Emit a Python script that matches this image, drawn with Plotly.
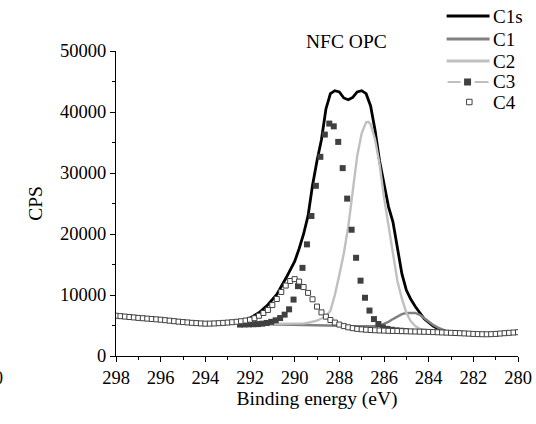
import plotly.graph_objects as go

# ---------------- data ----------------
# C4 (open squares) on a 0.2 eV grid from 298.0 to 280.0
c4_x = [round(298.0 - 0.2 * i, 1) for i in range(91)]
c4_y = [6600, 6530, 6460, 6390, 6320, 6250, 6190, 6130, 6070, 6010,
        5950, 5870, 5790, 5710, 5630, 5560, 5500, 5440, 5390, 5340,
        5300, 5310, 5340, 5380, 5430, 5480, 5540, 5610, 5700, 5810,
        5950, 6200, 6600, 7050, 7550, 8350, 9350, 10500, 11550, 12300,
        12600, 12200, 11300, 10350, 9300, 8100, 7150, 6450, 5900, 5480,
        5150, 4900, 4700, 4560, 4450, 4370, 4310, 4260, 4220, 4190,
        4160, 4130, 4110, 4090, 4070, 4050, 4030, 4010, 3990, 3970,
        3950, 3920, 3890, 3860, 3830, 3800, 3770, 3740, 3700, 3660,
        3620, 3590, 3570, 3560, 3580, 3620, 3680, 3740, 3800, 3850,
        3900]

# C3 (filled squares)
c3_x = [292.45, 292.25, 292.05, 291.85, 291.65, 291.45, 291.25, 291.05,
        290.85, 290.65, 290.45, 290.25, 290.05, 289.85, 289.65, 289.45,
        289.25, 289.05, 288.85, 288.65, 288.45, 288.25, 288.05, 287.85,
        287.65, 287.45, 287.25, 287.05, 286.85, 286.65, 286.45, 286.25,
        286.05, 285.85, 285.65, 285.45, 285.25, 285.05]
c3_y = [5150, 5170, 5190, 5210, 5230, 5300, 5420, 5600,
        5850, 6220, 6780, 7650, 9250, 11450, 14450, 18300,
        22950, 27900, 32650, 36300, 38100, 37650, 35100, 30800,
        25800, 20700, 16100, 12350, 9550, 7450, 6050, 5250,
        4700, 4450, 4300, 4200, 4150, 4100]

# C1s envelope (black line)
c1s_x = [292.6, 292.4, 292.0, 291.6, 291.2, 290.8, 290.4, 290.0, 289.8, 289.6,
         289.4, 289.2, 289.0, 288.8, 288.6, 288.4, 288.2, 288.0, 287.8, 287.6,
         287.4, 287.2, 287.0, 286.8, 286.6, 286.4, 286.2, 286.0, 285.8, 285.6,
         285.4, 285.2, 285.0, 284.8, 284.6, 284.4, 284.2, 284.0, 283.8, 283.6,
         283.4, 283.2, 283.0]
c1s_y = [5500, 5650, 6200, 7100, 8400, 10100, 12700, 15500, 17600, 20000,
         23000, 28000, 32000, 35500, 40500, 43000, 43500, 43300, 42300, 42000,
         42400, 43300, 43500, 43000, 41000, 37000, 32000, 28500, 24500, 22000,
         17800, 13500, 10800, 9300, 8100, 7000, 6100, 5500, 4900, 4500,
         4200, 4000, 3900]

# C1 component (mid grey)
c1_x = [292.0, 291.0, 290.0, 289.0, 288.0, 287.5, 287.0, 286.5, 286.2, 286.0,
        285.8, 285.6, 285.4, 285.2, 285.0, 284.8, 284.6, 284.4, 284.2, 284.0,
        283.8, 283.6, 283.4, 283.2, 283.0]
c1_y = [5250, 5200, 5150, 5050, 4950, 4900, 4850, 4900, 5000, 5250,
        5600, 6050, 6500, 6850, 7050, 7100, 7050, 6750, 6200, 5600,
        5100, 4700, 4350, 4050, 3950]

# C2 component (light grey)
c2_x = [292.0, 291.0, 290.0, 289.8, 289.6, 289.4, 289.2, 289.0, 288.8, 288.6,
        288.4, 288.2, 288.0, 287.8, 287.6, 287.4, 287.2, 287.0, 286.8, 286.7,
        286.6, 286.4, 286.2, 286.0, 285.8, 285.6, 285.4, 285.2, 285.0, 284.8,
        284.6, 284.4, 284.2, 284.0, 283.5, 283.0]
c2_y = [5200, 5250, 5250, 5280, 5350, 5450, 5600, 5800, 6150, 6600,
        7400, 10000, 13300, 16800, 21200, 27000, 32800, 36500, 38300, 38400,
        38000, 35500, 31500, 26000, 21500, 17400, 12300, 9400, 7100, 5700,
        4900, 4450, 4300, 4200, 4100, 4000]

x_ticks = [298, 296, 294, 292, 290, 288, 286, 284, 282, 280]
y_ticks = [0, 10000, 20000, 30000, 40000, 50000]
legend_names = ["C1s", "C1", "C2", "C3", "C4"]

FONT = "Liberation Serif"
W, H = 536, 424
ML, MR, MT, MB = 116, 17.5, 51, 68
PW, PH = W - ML - MR, H - MT - MB


def px(xp):
    return (xp - ML) / PW


def py(yp):
    return (H - MB - yp) / PH


fig = go.Figure()

fig.add_trace(go.Scatter(x=c1s_x, y=c1s_y, mode="lines", name="C1s",
                         line=dict(color="#000000", width=2.8)))
fig.add_trace(go.Scatter(x=c1_x, y=c1_y, mode="lines", name="C1",
                         line=dict(color="#808080", width=2.4)))
fig.add_trace(go.Scatter(x=c2_x, y=c2_y, mode="lines", name="C2",
                         line=dict(color="#c0c0c0", width=2.4)))
fig.add_trace(go.Scatter(x=c3_x, y=c3_y, mode="markers", name="C3",
                         marker=dict(symbol="square", size=6, color="#404040",
                                     line=dict(width=0))))
fig.add_trace(go.Scatter(x=c4_x, y=c4_y, mode="markers", name="C4",
                         marker=dict(symbol="square", size=5, color="white",
                                     line=dict(color="#404040", width=1))))

axis_common = dict(
    showline=True, linecolor="black", linewidth=1.3,
    ticks="outside", ticklen=5, tickwidth=1.3, tickcolor="black",
    showgrid=False, zeroline=False, mirror=False, automargin=False,
    tickfont=dict(family=FONT, size=18.5, color="black"),
)

fig.update_xaxes(range=[298, 280], tickvals=x_ticks,
                 ticktext=[str(v) for v in x_ticks],
                 minor=dict(dtick=1, ticklen=3, tickwidth=1.3,
                            tickcolor="black", ticks="outside"),
                 title=dict(text="Binding energy (eV)",
                            font=dict(family=FONT, size=19.5, color="black"),
                            standoff=4),
                 **axis_common)
fig.update_yaxes(range=[0, 50000], tickvals=y_ticks,
                 ticktext=[str(v) for v in y_ticks],
                 minor=dict(dtick=5000, ticklen=3, tickwidth=1.3,
                            tickcolor="black", ticks="outside"),
                 title=dict(text="CPS",
                            font=dict(family=FONT, size=19.5, color="black"),
                            standoff=12),
                 **axis_common)

# ---- manual legend (Origin style) ----
leg_y = [16, 39, 61, 82, 102]
shapes = []
annotations = []
line_styles = [("#000000", 3), ("#808080", 3), ("#c0c0c0", 3)]
for i, (col, wid) in enumerate(line_styles):
    shapes.append(dict(type="line", xref="paper", yref="paper",
                       x0=px(447), x1=px(490), y0=py(leg_y[i]), y1=py(leg_y[i]),
                       line=dict(color=col, width=wid)))
# C3: line - square - line
yc = leg_y[3]
shapes.append(dict(type="line", xref="paper", yref="paper",
                   x0=px(448), x1=px(461), y0=py(yc), y1=py(yc),
                   line=dict(color="#808080", width=1)))
shapes.append(dict(type="line", xref="paper", yref="paper",
                   x0=px(475), x1=px(489), y0=py(yc), y1=py(yc),
                   line=dict(color="#808080", width=1)))
shapes.append(dict(type="rect", xref="paper", yref="paper",
                   x0=px(464.5), x1=px(471.5), y0=py(yc + 3.5), y1=py(yc - 3.5),
                   fillcolor="#404040", line=dict(width=0)))
# C4: open square
yc = leg_y[4]
shapes.append(dict(type="rect", xref="paper", yref="paper",
                   x0=px(467), x1=px(472.5), y0=py(yc + 2.75), y1=py(yc - 2.75),
                   fillcolor="white", line=dict(color="#404040", width=1)))
for i, name in enumerate(legend_names):
    annotations.append(dict(text=name, x=px(491), y=py(leg_y[i]),
                            xref="paper", yref="paper", xanchor="left",
                            yanchor="middle", showarrow=False,
                            font=dict(family=FONT, size=19, color="black")))

annotations.append(dict(text="NFC OPC", x=px(347), y=py(42),
                        xref="paper", yref="paper", xanchor="center",
                        yanchor="middle", showarrow=False,
                        font=dict(family=FONT, size=19.5, color="black")))
annotations.append(dict(text="0", x=px(5), y=py(378),
                        xref="paper", yref="paper", xanchor="right",
                        yanchor="middle", showarrow=False,
                        font=dict(family=FONT, size=18, color="black")))

fig.update_layout(
    width=W, height=H,
    margin=dict(l=ML, r=MR, t=MT, b=MB, pad=0, autoexpand=False),
    paper_bgcolor="white", plot_bgcolor="white",
    showlegend=False,
    shapes=shapes,
    annotations=annotations,
)

fig.write_html("out.html")
